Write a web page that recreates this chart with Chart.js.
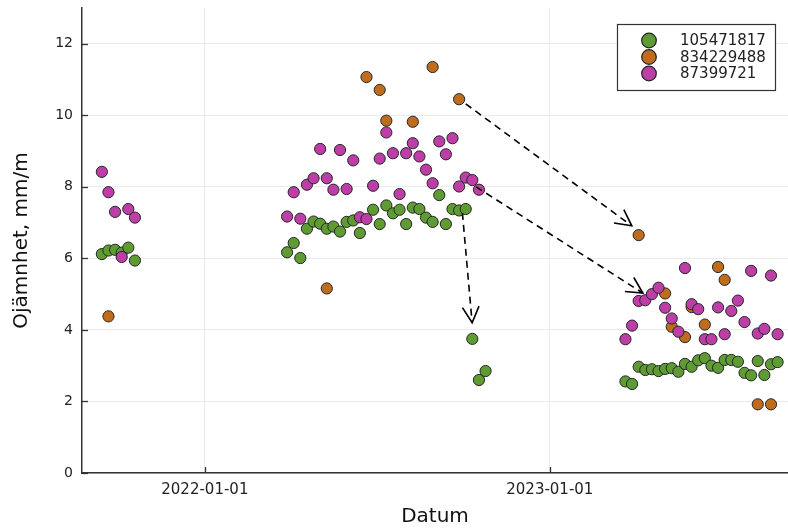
<!DOCTYPE html>
<html><head><meta charset="utf-8">
<script src="https://cdn.jsdelivr.net/npm/chart.js@4.4.1/dist/chart.umd.min.js"></script>
<style>html,body{margin:0;padding:0;background:#fff;}#wrap{width:788px;height:530px;}</style>
</head><body><div id="wrap"><canvas id="c" width="788" height="530"></canvas></div>
<script>
// Series names (legend)
const seriesNames = ["105471817", "834229488", "87399721"];
const seriesColors = ["#5f9b33", "#bf6d1d", "#bd3ea6"];
// X ticks: days since 2022-01-01
const xTickValues = [0, 365];
const xTickLabels = ["2022-01-01", "2023-01-01"];
const yTickValues = [0, 2, 4, 6, 8, 10, 12];

// Series 105471817 (green): days since 2022-01-01 and values
const greenDays = [-109,-102,-95,-88,-81,-74,
  87,94,101,108,115,122,129,136,143,150,157,164,178,185,192,199,206,213,220,227,234,241,248,255,262,269,276,283,290,297,
  445,452,459,466,473,480,487,494,501,508,515,522,529,536,543,550,557,564,571,578,585,592,599,606];
const greenValues = [6.12,6.22,6.24,6.16,6.30,5.94,
  6.17,6.43,6.01,6.83,7.03,6.97,6.83,6.89,6.75,7.02,7.06,6.71,7.36,6.96,7.48,7.26,7.36,6.96,7.42,7.38,7.14,7.02,7.77,6.96,7.38,7.34,7.38,3.75,2.60,2.85,
  2.56,2.49,2.97,2.88,2.90,2.85,2.91,2.93,2.83,3.05,2.97,3.15,3.21,3.00,2.94,3.16,3.16,3.11,2.80,2.73,3.13,2.74,3.04,3.10];

// Series 834229488 (orange)
const orangeDays = [-102, 129,171,185,192,220,241,269, 459,487,494,508,515,529,543,550,585,599];
const orangeValues = [4.38, 5.16,11.07,10.71,9.85,9.82,11.35,10.45, 6.65,5.02,4.09,3.80,4.64,4.15,5.76,5.40,1.92,1.92];

// Series 87399721 (purple)
const purpleDays = [-109,-102,-95,-88,-81,-74,
  87,94,101,108,115,122,129,136,143,150,157,164,171,178,185,192,199,206,213,220,227,234,241,248,255,262,269,276,283,290,
  445,452,459,466,473,480,487,494,501,508,515,522,529,536,543,550,557,564,571,578,585,592,599,606];
const purpleValues = [8.42,7.85,7.30,6.04,7.38,7.14,
  7.17,7.85,7.11,8.06,8.24,9.06,8.24,7.92,9.03,7.94,8.74,7.15,7.10,8.03,8.79,9.52,8.94,7.80,8.94,9.22,8.85,8.48,8.10,9.27,8.91,9.36,8.01,8.26,8.19,7.92,
  3.74,4.12,4.81,4.83,5.00,5.18,4.62,4.32,3.95,5.73,4.72,4.58,3.74,3.74,4.63,3.88,4.53,4.82,4.22,5.65,3.90,4.03,5.52,3.88];

// Annotation arrows (data coordinates)
const arrowStartDays = [276, 287, 272.5];
const arrowStartValues = [10.32, 8.0, 7.27];
const arrowEndDays = [451.7, 463.4, 282.8];
const arrowEndValues = [6.91, 5.03, 4.20];

const toPts = (xs, ys) => xs.map((x, i) => ({x: x, y: ys[i]}));
const FONT = "'DejaVu Sans', sans-serif";

const decor = {
  id: 'decor',
  afterDatasetsDraw(chart) {
    const ctx = chart.ctx, xs = chart.scales.x, ys = chart.scales.y;
    ctx.save();
    ctx.strokeStyle = '#000';
    ctx.lineWidth = 1.6;
    for (let i = 0; i < arrowStartDays.length; i++) {
      const x0 = xs.getPixelForValue(arrowStartDays[i]), y0 = ys.getPixelForValue(arrowStartValues[i]);
      const x1 = xs.getPixelForValue(arrowEndDays[i]), y1 = ys.getPixelForValue(arrowEndValues[i]);
      ctx.setLineDash([7, 5]);
      ctx.beginPath(); ctx.moveTo(x0, y0); ctx.lineTo(x1, y1); ctx.stroke();
      ctx.setLineDash([]);
      const a = Math.atan2(y1 - y0, x1 - x0), L = 18, h = 0.48;
      ctx.beginPath();
      ctx.moveTo(x1 - L * Math.cos(a - h), y1 - L * Math.sin(a - h));
      ctx.lineTo(x1, y1);
      ctx.lineTo(x1 - L * Math.cos(a + h), y1 - L * Math.sin(a + h));
      ctx.stroke();
    }
    ctx.restore();
  },
  afterDraw(chart) {
    const ctx = chart.ctx, xs = chart.scales.x, ys = chart.scales.y, ca = chart.chartArea;
    ctx.save();
    ctx.strokeStyle = '#333'; ctx.lineWidth = 1.3;
    yTickValues.forEach(v => {
      const y = Math.round(ys.getPixelForValue(v)) + 0.5;
      ctx.beginPath(); ctx.moveTo(ca.left, y); ctx.lineTo(ca.left + 6, y); ctx.stroke();
    });
    xTickValues.forEach(v => {
      const x = Math.round(xs.getPixelForValue(v)) + 0.5;
      ctx.beginPath(); ctx.moveTo(x, ca.bottom); ctx.lineTo(x, ca.bottom - 6); ctx.stroke();
    });
    // legend
    const bx = ca.right - 171, by = ca.top + 16, bw = 158, bh = 66;
    ctx.fillStyle = '#fff';
    ctx.fillRect(bx, by, bw, bh);
    ctx.strokeStyle = '#333'; ctx.lineWidth = 1.2;
    ctx.strokeRect(bx + 0.5, by + 0.5, bw, bh);
    ctx.font = '15px ' + FONT;
    ctx.textBaseline = 'middle'; ctx.textAlign = 'left';
    chart.data.datasets.forEach((ds, i) => {
      const cy = by + 16.5 + i * 16.5;
      ctx.beginPath(); ctx.arc(bx + 32, cy, 7.3, 0, Math.PI * 2);
      ctx.fillStyle = ds.backgroundColor; ctx.fill();
      ctx.strokeStyle = '#222'; ctx.lineWidth = 1.2; ctx.stroke();
      ctx.fillStyle = '#222';
      ctx.fillText(ds.label, bx + 63, cy + 1);
    });
    ctx.restore();
  }
};

const mk = (i, xs, ys, order) => ({
  label: seriesNames[i], data: toPts(xs, ys), backgroundColor: seriesColors[i],
  borderColor: '#262626', borderWidth: 1, pointRadius: 5.6, pointHoverRadius: 5.6, order: order
});

new Chart(document.getElementById('c'), {
  type: 'scatter',
  data: { datasets: [
    mk(0, greenDays, greenValues, 2),
    mk(1, orangeDays, orangeValues, 1),
    mk(2, purpleDays, purpleValues, 0)
  ]},
  options: {
    responsive: false, animation: false, devicePixelRatio: 1,
    layout: { autoPadding: false, padding: { top: 8, right: 0, left: 0, bottom: 0 } },
    plugins: { legend: { display: false }, tooltip: { enabled: false } },
    scales: {
      x: {
        type: 'linear', min: -130, max: 617,
        afterFit: s => { s.height = 57; s.paddingLeft = 0; s.paddingRight = 0; },
        afterBuildTicks: s => { s.ticks = xTickValues.map(v => ({ value: v })); },
        ticks: { padding: 8, color: '#222', font: { family: FONT, size: 15 },
          callback: (v) => xTickLabels[xTickValues.indexOf(v)] },
        grid: { color: '#ebebeb', lineWidth: 1, drawTicks: false },
        border: { color: '#333', width: 1.5 },
        title: { display: true, text: 'Datum', color: '#111', font: { family: FONT, size: 20 }, padding: { top: 0, bottom: 1 } }
      },
      y: {
        min: 0, max: 13,
        afterFit: s => { s.width = 82; s.paddingTop = 0; s.paddingBottom = 0; },
        afterBuildTicks: s => { s.ticks = yTickValues.map(v => ({ value: v })); },
        ticks: { padding: 9, color: '#222', font: { family: FONT, size: 14 } },
        grid: { color: '#ebebeb', lineWidth: 1, drawTicks: false },
        border: { color: '#333', width: 1.5 },
        title: { display: true, text: 'Ojämnhet, mm/m', color: '#111', font: { family: FONT, size: 20 }, padding: { top: 10, bottom: 0 } }
      }
    }
  },
  plugins: [decor]
});
</script></body></html>
